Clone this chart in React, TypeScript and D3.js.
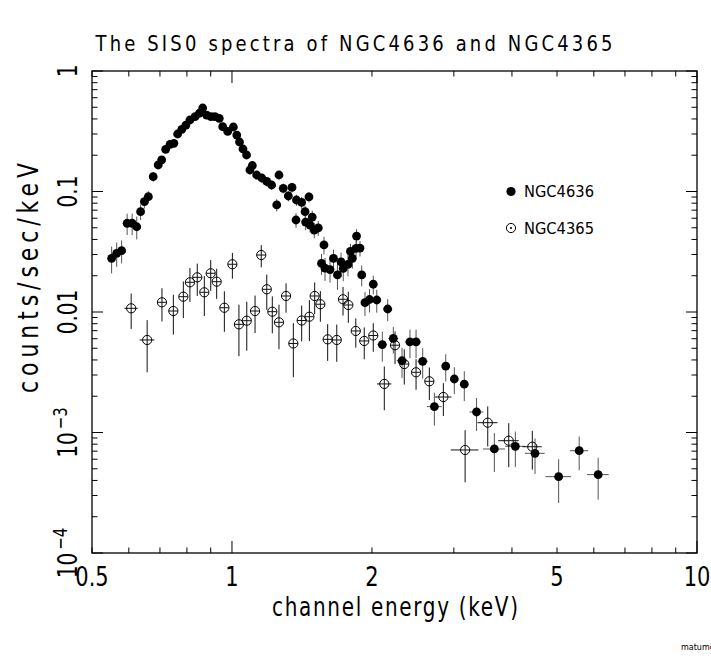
import * as d3 from "d3";

// NGC4636 (filled)
const n4636Energy = [
  0.551, 0.565, 0.579, 0.595, 0.61, 0.624, 0.636, 0.648, 0.661, 0.677,
  0.694, 0.706, 0.72, 0.736, 0.75, 0.764, 0.78, 0.796, 0.812, 0.833,
  0.851, 0.865, 0.882, 0.901, 0.919, 0.939, 0.955, 0.979, 1.007, 1.024,
  1.038, 1.056, 1.075, 1.093, 1.106, 1.13, 1.159, 1.188, 1.217, 1.248,
  1.262, 1.289, 1.322, 1.346, 1.376, 1.373, 1.412, 1.436, 1.44, 1.464,
  1.472, 1.488, 1.503, 1.533, 1.577, 1.558, 1.585, 1.625, 1.653, 1.686,
  1.716, 1.735, 1.776, 1.798, 1.815, 1.853, 1.848, 1.885, 1.901, 1.932,
  1.976, 2.013, 2.048, 2.105, 2.162, 2.223, 2.321, 2.414, 2.488, 2.571,
  2.724, 2.882, 3.007, 3.159, 3.357, 3.666, 4.068, 4.484, 5.04, 5.58, 6.13,
];
const n4636Rate = [
  0.0279, 0.0307, 0.0323, 0.0545, 0.0545, 0.051, 0.068, 0.0823, 0.0905, 0.1327,
  0.166, 0.183, 0.224, 0.2465, 0.251, 0.3, 0.328, 0.356, 0.392, 0.418,
  0.446, 0.493, 0.431, 0.418, 0.418, 0.405, 0.345, 0.315, 0.343, 0.294,
  0.2575, 0.2253, 0.2009, 0.1508, 0.1643, 0.1371, 0.1294, 0.1211, 0.1132, 0.0773,
  0.1371, 0.1063, 0.0918, 0.108, 0.085, 0.058, 0.0811, 0.068, 0.0558, 0.0901,
  0.0527, 0.0614, 0.0479, 0.0498, 0.036, 0.0253, 0.0231, 0.0225, 0.0279, 0.0203,
  0.0261, 0.023, 0.0248, 0.0318, 0.0279, 0.0427, 0.0337, 0.0339, 0.0203, 0.01195,
  0.0127, 0.017, 0.01258, 0.00537, 0.01059, 0.00603, 0.00394, 0.00564, 0.00564, 0.0039,
  0.00164, 0.00356, 0.00278, 0.00252, 0.00148, 0.00073, 0.000768, 0.000672, 0.00043, 0.000706, 0.000447,
];
const n4636Err = [
  0.007, 0.007, 0.007, 0.011, 0.011, 0.011, 0.01, 0.01, 0.01, 0.012,
  0.012, 0.012, 0.013, 0.013, 0.013, 0.015, 0.015, 0.015, 0.016, 0.017,
  0.017, 0.018, 0.017, 0.017, 0.017, 0.017, 0.016, 0.016, 0.016, 0.015,
  0.014, 0.014, 0.013, 0.012, 0.012, 0.011, 0.011, 0.011, 0.01, 0.009,
  0.011, 0.01, 0.009, 0.01, 0.009, 0.008, 0.009, 0.008, 0.008, 0.009,
  0.007, 0.008, 0.007, 0.007, 0.006, 0.005, 0.005, 0.005, 0.005, 0.005,
  0.005, 0.005, 0.005, 0.005, 0.005, 0.006, 0.005, 0.005, 0.004, 0.0027,
  0.0028, 0.003, 0.0027, 0.0015, 0.0022, 0.0015, 0.0011, 0.0015, 0.0015, 0.0011,
  0.0005, 0.0009, 0.0007, 0.0007, 0.00045, 0.00026, 0.00025, 0.00022, 0.00017, 0.00022, 0.00017,
];
const n4636XErr = [
  0.007, 0.007, 0.007, 0.007, 0.007, 0.007, 0.007, 0.007, 0.007, 0.007,
  0.007, 0.007, 0.007, 0.007, 0.007, 0.007, 0.007, 0.007, 0.007, 0.007,
  0.007, 0.007, 0.007, 0.007, 0.007, 0.007, 0.007, 0.007, 0.012, 0.012,
  0.012, 0.012, 0.012, 0.012, 0.012, 0.012, 0.012, 0.012, 0.012, 0.012,
  0.012, 0.012, 0.012, 0.012, 0.012, 0.012, 0.012, 0.012, 0.012, 0.012,
  0.012, 0.012, 0.012, 0.012, 0.012, 0.012, 0.012, 0.012, 0.012, 0.012,
  0.012, 0.012, 0.012, 0.012, 0.012, 0.012, 0.012, 0.012, 0.012, 0.012,
  0.012, 0.012, 0.012, 0.05, 0.05, 0.055, 0.06, 0.06, 0.06, 0.065,
  0.1, 0.04, 0.045, 0.05, 0.116, 0.2, 0.2, 0.22, 0.32, 0.25, 0.33,
];

// NGC4365 (open)
const n4365Energy = [
  0.607, 0.657, 0.707, 0.748, 0.786, 0.812, 0.842, 0.872, 0.9, 0.927,
  0.963, 1.002, 1.035, 1.076, 1.121, 1.156, 1.188, 1.221, 1.262, 1.307,
  1.355, 1.412, 1.467, 1.506, 1.549, 1.606, 1.68, 1.733, 1.779, 1.846,
  1.925, 2.013, 2.126, 2.242, 2.347, 2.488, 2.657, 2.848, 3.172, 3.548,
  3.937, 4.424,
];
const n4365Rate = [
  0.01073, 0.00586, 0.01204, 0.01019, 0.0134, 0.01764, 0.0194, 0.01457, 0.02096, 0.01785,
  0.01085, 0.0249, 0.0079, 0.00847, 0.01019, 0.0297, 0.01543, 0.01006, 0.00821, 0.01358,
  0.00548, 0.0085, 0.00914, 0.01358, 0.0116, 0.00593, 0.00586, 0.01275, 0.01143, 0.00696,
  0.00575, 0.00638, 0.00253, 0.0053, 0.0037, 0.00316, 0.00266, 0.00197, 0.000716, 0.001206,
  0.000855, 0.000762,
];
const n4365Err = [
  0.0035, 0.0027, 0.0037, 0.0037, 0.0045, 0.0055, 0.0058, 0.0053, 0.006, 0.005,
  0.004, 0.006, 0.0036, 0.0037, 0.0035, 0.0062, 0.005, 0.0034, 0.0033, 0.0037,
  0.0026, 0.0028, 0.0034, 0.004, 0.0033, 0.002, 0.002, 0.0034, 0.0033, 0.0019,
  0.0017, 0.0017, 0.001, 0.0016, 0.0012, 0.0009, 0.0008, 0.0006, 0.00033, 0.00044,
  0.00034, 0.00027,
];
const n4365XErr = [
  0.02, 0.024, 0.016, 0.017, 0.017, 0.018, 0.019, 0.019, 0.02, 0.02,
  0.021, 0.022, 0.023, 0.024, 0.025, 0.026, 0.026, 0.027, 0.028, 0.029,
  0.03, 0.031, 0.032, 0.033, 0.034, 0.035, 0.037, 0.038, 0.039, 0.041,
  0.042, 0.044, 0.076, 0.05, 0.052, 0.055, 0.059, 0.116, 0.217, 0.176,
  0.2, 0.21,
];

const xTickValues = [0.5, 1, 2, 5, 10];
const xTickLabels = ["0.5", "1", "2", "5", "10"];
const yTickValues = [1, 0.1, 0.01, 0.001, 0.0001];
const yTickLabels = ["1", "0.1", "0.01", "10|−3", "10|−4"];

const W = 711;
const H = 658;
const FONT = "'DejaVu Sans', sans-serif";

type Pt = { e: number; r: number; er: number; xe: number };

function zip(e: number[], r: number[], er: number[], xe: number[]): Pt[] {
  return e.map((v, i) => ({ e: v, r: r[i], er: er[i], xe: xe[i] }));
}

export default function App() {
  const x = d3.scaleLog().domain([0.5, 10]).range([92, 697]);
  const y = d3.scaleLog().domain([1e-4, 1]).range([553, 71]);
  const [x0, x1] = x.range();
  const [y0, y1] = y.range();

  const filled = zip(n4636Energy, n4636Rate, n4636Err, n4636XErr);
  const open = zip(n4365Energy, n4365Rate, n4365Err, n4365XErr);

  const isDecade = (v: number) => Math.abs(Math.log10(v) - Math.round(Math.log10(v))) < 1e-6;
  const xt = x.ticks();
  const yt = y.ticks();

  const bars = (pts: Pt[], color: string) =>
    pts.map((p, i) => {
      const cx = x(p.e);
      const cy = y(p.r);
      const lo = Math.max(p.r - p.er, 1e-4);
      return (
        <g key={i} stroke={color} strokeWidth={1}>
          <line x1={cx} x2={cx} y1={y(p.r + p.er)} y2={y(lo)} />
          <line x1={x(p.e - p.xe)} x2={x(p.e + p.xe)} y1={cy} y2={cy} />
        </g>
      );
    });

  return (
    <svg
      width={W}
      height={H}
      viewBox={`0 0 ${W} ${H}`}
      style={{ position: "absolute", left: 0, top: 0, background: "#fff" }}
      fontFamily={FONT}
    >
      <rect width={W} height={H} fill="#fff" />
      {/* title */}
      <text
        transform={`translate(354,51) scale(1,1.15)`}
        fontSize={18}
        textAnchor="middle"
        textLength={517}
        lengthAdjust="spacing"
      >
        The SIS0 spectra of NGC4636 and NGC4365
      </text>

      {/* frame */}
      <rect x={x0} y={y1} width={x1 - x0} height={y0 - y1} fill="none" stroke="#000" strokeWidth={1.3} />

      {/* x ticks, bottom and top */}
      {xt.map((t, i) => {
        const len = isDecade(t) ? 12 : 5.5;
        const px = x(t);
        return (
          <g key={i} stroke="#000" strokeWidth={1}>
            <line x1={px} x2={px} y1={y0} y2={y0 - len} />
            <line x1={px} x2={px} y1={y1} y2={y1 + len} />
          </g>
        );
      })}
      {/* y ticks, left and right */}
      {yt.map((t, i) => {
        const len = isDecade(t) ? 11 : 5.5;
        const py = y(t);
        return (
          <g key={i} stroke="#000" strokeWidth={1}>
            <line x1={x0} x2={x0 + len} y1={py} y2={py} />
            <line x1={x1} x2={x1 - len} y1={py} y2={py} />
          </g>
        );
      })}

      {/* x tick labels */}
      {xTickValues.map((v, i) => (
        <text
          key={i}
          transform={`translate(${x(v)},586) scale(1,1.3)`}
          fontSize={21}
          textAnchor="middle"
        >
          {xTickLabels[i]}
        </text>
      ))}
      {/* y tick labels (rotated) */}
      {yTickValues.map((v, i) => {
        const parts = yTickLabels[i].split("|");
        return (
          <text
            key={i}
            transform={`translate(77,${y(v)}) rotate(-90) scale(1,1.3)`}
            fontSize={20}
            textAnchor="middle"
          >
            {parts[0]}
            {parts[1] && (
              <tspan dx={3} dy={-8} fontSize={15}>
                {parts[1]}
              </tspan>
            )}
          </text>
        );
      })}

      {/* axis titles */}
      <text
        transform={`translate(395,616) scale(1,1.3)`}
        fontSize={20}
        textAnchor="middle"
        textLength={246}
        lengthAdjust="spacing"
      >
        channel energy (keV)
      </text>
      <text
        transform={`translate(38,278) rotate(-90) scale(1,1.3)`}
        fontSize={22}
        textAnchor="middle"
        textLength={230}
        lengthAdjust="spacing"
      >
        counts/sec/keV
      </text>

      {/* data */}
      {bars(filled, "#555")}
      {filled.map((p, i) => (
        <circle key={i} cx={x(p.e)} cy={y(p.r)} r={4.4} fill="#000" />
      ))}
      {bars(open, "#111")}
      {open.map((p, i) => (
        <circle key={i} cx={x(p.e)} cy={y(p.r)} r={4.6} fill="none" stroke="#000" strokeWidth={1} />
      ))}

      {/* legend */}
      <circle cx={511} cy={191.5} r={4.6} fill="#000" />
      <text x={524} y={197.3} fontSize={15.5} textLength={70} lengthAdjust="spacingAndGlyphs">
        NGC4636
      </text>
      <circle cx={511} cy={228} r={4.6} fill="none" stroke="#000" strokeWidth={1} />
      <circle cx={511} cy={228} r={1.1} fill="#000" />
      <text x={524} y={233.7} fontSize={15.5} textLength={70} lengthAdjust="spacingAndGlyphs">
        NGC4365
      </text>

      <text x={681} y={650} fontSize={8}>
        matumoto
      </text>
    </svg>
  );
}
